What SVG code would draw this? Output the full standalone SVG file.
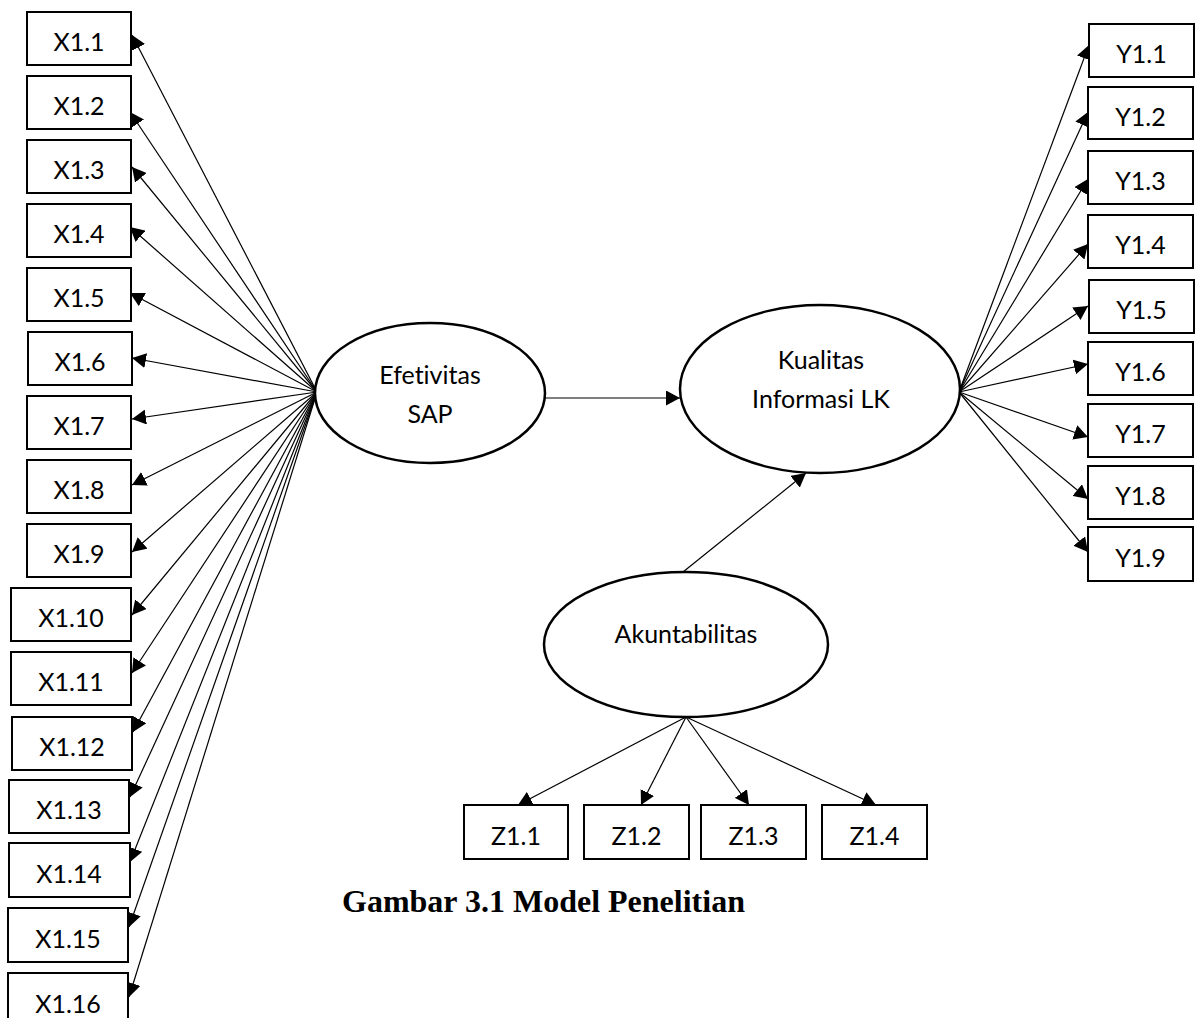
<svg xmlns="http://www.w3.org/2000/svg" width="1201" height="1018" viewBox="0 0 1201 1018">
<style>
.box{fill:#fff;stroke:#000;stroke-width:2}
.ell{fill:#fff;stroke:#000;stroke-width:2.5}
.lbl{font-family:Lato,"Open Sans","DejaVu Sans",sans-serif;font-size:25px;fill:#000;text-anchor:middle;font-variant-ligatures:none}
.cap{font-family:"Liberation Serif","Times New Roman",serif;font-size:32px;font-weight:bold;fill:#000}
.con line{stroke:#000;stroke-width:1.2;fill:none;marker-end:url(#ah)}
</style>
<defs>
<marker id="ah" markerUnits="userSpaceOnUse" markerWidth="15" markerHeight="15" refX="14" refY="7.5" orient="auto">
<path d="M0,0 L14,7.5 L0,15 z" fill="#000"/>
</marker>
</defs>
<rect width="1201" height="1018" fill="#fff"/>
<g id="connectors" class="con">
<line x1="317" y1="392" x2="132" y2="35"/>
<line x1="317" y1="392" x2="130" y2="112"/>
<line x1="317" y1="392" x2="132" y2="167"/>
<line x1="317" y1="392" x2="130" y2="227"/>
<line x1="317" y1="392" x2="130" y2="293"/>
<line x1="317" y1="392" x2="132" y2="358"/>
<line x1="317" y1="392" x2="132" y2="419"/>
<line x1="317" y1="392" x2="132" y2="485"/>
<line x1="317" y1="392" x2="132" y2="552"/>
<line x1="317" y1="392" x2="132" y2="615"/>
<line x1="317" y1="392" x2="132" y2="673"/>
<line x1="317" y1="392" x2="133" y2="732"/>
<line x1="317" y1="392" x2="130" y2="797"/>
<line x1="317" y1="392" x2="130" y2="862"/>
<line x1="317" y1="392" x2="129" y2="927"/>
<line x1="317" y1="392" x2="129" y2="997"/>
<line x1="545" y1="398" x2="680" y2="398"/>
<line x1="683" y1="572" x2="806" y2="473"/>
<line x1="959" y1="392" x2="1089" y2="45"/>
<line x1="959" y1="392" x2="1088" y2="112"/>
<line x1="959" y1="392" x2="1088" y2="179"/>
<line x1="959" y1="392" x2="1088" y2="244"/>
<line x1="959" y1="392" x2="1088" y2="306"/>
<line x1="959" y1="392" x2="1088" y2="364"/>
<line x1="959" y1="392" x2="1088" y2="437"/>
<line x1="959" y1="392" x2="1088" y2="499"/>
<line x1="959" y1="392" x2="1088" y2="552"/>
<line x1="686" y1="717" x2="518" y2="805"/>
<line x1="686" y1="717" x2="641" y2="805"/>
<line x1="686" y1="717" x2="749" y2="805"/>
<line x1="686" y1="717" x2="876" y2="805"/>
</g>
<g id="efetivitas"><ellipse class="ell" cx="430" cy="393" rx="115" ry="70"/><text class="lbl" x="430" y="384">Efetivitas</text><text class="lbl" x="430" y="423">SAP</text></g>
<g id="kualitas"><ellipse class="ell" cx="820" cy="389" rx="140" ry="84"/><text class="lbl" x="821" y="369">Kualitas</text><text class="lbl" x="821" y="408">Informasi LK</text></g>
<g id="akuntabilitas"><ellipse class="ell" cx="686" cy="644.5" rx="142" ry="72.5"/><text class="lbl" x="686" y="643">Akuntabilitas</text></g>
<g id="x1_1"><rect class="box" x="27" y="12" width="104" height="53"/><text class="lbl" x="79" y="51">X1.1</text></g>
<g id="x1_2"><rect class="box" x="27" y="76" width="104" height="53"/><text class="lbl" x="79" y="115">X1.2</text></g>
<g id="x1_3"><rect class="box" x="27" y="140" width="104" height="53"/><text class="lbl" x="79" y="179">X1.3</text></g>
<g id="x1_4"><rect class="box" x="27" y="204" width="104" height="53"/><text class="lbl" x="79" y="243">X1.4</text></g>
<g id="x1_5"><rect class="box" x="27" y="268" width="104" height="53"/><text class="lbl" x="79" y="307">X1.5</text></g>
<g id="x1_6"><rect class="box" x="28" y="332" width="104" height="53"/><text class="lbl" x="80" y="371">X1.6</text></g>
<g id="x1_7"><rect class="box" x="27" y="396" width="104" height="53"/><text class="lbl" x="79" y="435">X1.7</text></g>
<g id="x1_8"><rect class="box" x="27" y="460" width="104" height="53"/><text class="lbl" x="79" y="499">X1.8</text></g>
<g id="x1_9"><rect class="box" x="27" y="524" width="104" height="53"/><text class="lbl" x="79" y="563">X1.9</text></g>
<g id="x1_10"><rect class="box" x="11" y="588" width="120" height="53"/><text class="lbl" x="71" y="627">X1.10</text></g>
<g id="x1_11"><rect class="box" x="11" y="652" width="120" height="53"/><text class="lbl" x="71" y="691">X1.11</text></g>
<g id="x1_12"><rect class="box" x="12" y="717" width="120" height="53"/><text class="lbl" x="72" y="756">X1.12</text></g>
<g id="x1_13"><rect class="box" x="9" y="780" width="120" height="53"/><text class="lbl" x="69" y="819">X1.13</text></g>
<g id="x1_14"><rect class="box" x="9" y="843" width="121" height="54"/><text class="lbl" x="69" y="883">X1.14</text></g>
<g id="x1_15"><rect class="box" x="8" y="908" width="120" height="54"/><text class="lbl" x="68" y="948">X1.15</text></g>
<g id="x1_16"><rect class="box" x="8" y="973" width="120" height="54"/><text class="lbl" x="68" y="1013">X1.16</text></g>
<g id="y1_1"><rect class="box" x="1089" y="24" width="105" height="53"/><text class="lbl" x="1141.5" y="63">Y1.1</text></g>
<g id="y1_2"><rect class="box" x="1088" y="87" width="105" height="52"/><text class="lbl" x="1140.5" y="126">Y1.2</text></g>
<g id="y1_3"><rect class="box" x="1088" y="151" width="105" height="53"/><text class="lbl" x="1140.5" y="190">Y1.3</text></g>
<g id="y1_4"><rect class="box" x="1088" y="215" width="105" height="53"/><text class="lbl" x="1140.5" y="254">Y1.4</text></g>
<g id="y1_5"><rect class="box" x="1089" y="280" width="105" height="53"/><text class="lbl" x="1141.5" y="319">Y1.5</text></g>
<g id="y1_6"><rect class="box" x="1088" y="342" width="105" height="53"/><text class="lbl" x="1140.5" y="381">Y1.6</text></g>
<g id="y1_7"><rect class="box" x="1088" y="404" width="105" height="53"/><text class="lbl" x="1140.5" y="443">Y1.7</text></g>
<g id="y1_8"><rect class="box" x="1088" y="466" width="105" height="53"/><text class="lbl" x="1140.5" y="505">Y1.8</text></g>
<g id="y1_9"><rect class="box" x="1088" y="527" width="105" height="54"/><text class="lbl" x="1140.5" y="567">Y1.9</text></g>
<g id="z1_1"><rect class="box" x="464" y="805" width="104" height="54"/><text class="lbl" x="516" y="845">Z1.1</text></g>
<g id="z1_2"><rect class="box" x="584" y="805" width="105" height="54"/><text class="lbl" x="636.5" y="845">Z1.2</text></g>
<g id="z1_3"><rect class="box" x="701" y="805" width="105" height="54"/><text class="lbl" x="753.5" y="845">Z1.3</text></g>
<g id="z1_4"><rect class="box" x="822" y="805" width="105" height="54"/><text class="lbl" x="874.5" y="845">Z1.4</text></g>
<text class="cap" x="342" y="912">Gambar 3.1 Model Penelitian</text>
</svg>
